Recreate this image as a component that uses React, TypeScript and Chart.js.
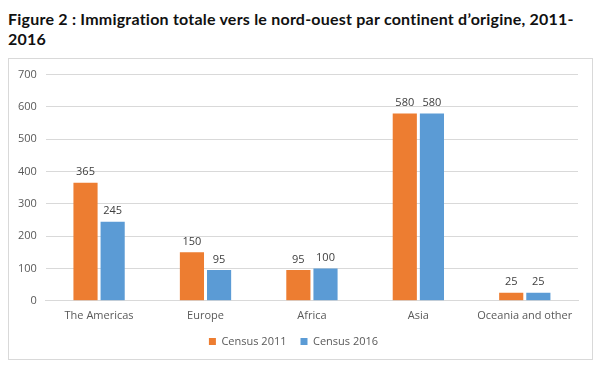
import React, { useEffect, useRef } from "react";
import { Chart, registerables } from "chart.js";

Chart.register(...registerables);

const categories = ["The Americas", "Europe", "Africa", "Asia", "Oceania and other"];
const census2011 = [365, 150, 95, 580, 25];
const census2016 = [245, 95, 100, 580, 25];
const yTicks = [0, 100, 200, 300, 400, 500, 600, 700];

const FONT = "'Open Sans', 'Noto Sans', sans-serif";

const valueLabels = {
  id: "valueLabels",
  afterDatasetsDraw(chart: any) {
    const ctx = chart.ctx;
    ctx.save();
    ctx.font = `11px ${FONT}`;
    ctx.fillStyle = "#404040";
    ctx.textAlign = "center";
    ctx.textBaseline = "bottom";
    chart.data.datasets.forEach((ds: any, i: number) => {
      const meta = chart.getDatasetMeta(i);
      meta.data.forEach((el: any, j: number) => {
        ctx.fillText(String(ds.data[j]), el.x, el.y - 5);
      });
    });
    ctx.restore();
  },
};

export default function App() {
  const ref = useRef<HTMLCanvasElement>(null);
  useEffect(() => {
    if (!ref.current) return;
    const chart = new Chart(ref.current, {
      type: "bar",
      data: {
        labels: categories,
        datasets: [
          { label: "Census 2011", data: census2011, backgroundColor: "#ED7D31", barPercentage: 0.89, categoryPercentage: 0.51 },
          { label: "Census 2016", data: census2016, backgroundColor: "#5B9BD5", barPercentage: 0.89, categoryPercentage: 0.51 },
        ],
      },
      options: {
        animation: false,
        responsive: true,
        maintainAspectRatio: false,
        layout: { padding: { left: 0, right: 14, top: 6, bottom: 2 } },
        plugins: {
          legend: {
            position: "bottom",
            labels: { boxWidth: 7, boxHeight: 7, color: "#595959", font: { family: FONT, size: 11 }, padding: 14 },
          },
          tooltip: { enabled: false },
        },
        scales: {
          x: {
            grid: { display: false },
            border: { color: "#d9d9d9" },
            ticks: { color: "#595959", font: { family: FONT, size: 11 }, padding: 0 },
          },
          y: {
            min: 0,
            max: 700,
            afterBuildTicks: (axis: any) => {
              axis.ticks = yTicks.map((v) => ({ value: v }));
            },
            grid: { color: "#d9d9d9", drawTicks: false },
            border: { display: false },
            ticks: { color: "#595959", font: { family: FONT, size: 11 }, padding: 9 },
          },
        },
      },
      plugins: [valueLabels],
    });
    return () => chart.destroy();
  }, []);

  return (
    <div style={{ width: 594, fontFamily: FONT }}>
      <div style={{ fontFamily: "Lato, sans-serif", fontWeight: 700, fontSize: 16, lineHeight: "20px", color: "#111", marginTop: 1, letterSpacing: "0.22px", whiteSpace: "nowrap" }}>
        Figure 2 : Immigration totale vers le nord-ouest par continent d’origine, 2011-
        <br />
        2016
      </div>
      <div style={{ marginTop: 9, border: "1px solid #d9d9d9", width: 583, height: 300, position: "relative" }}>
        <canvas ref={ref} />
      </div>
    </div>
  );
}
